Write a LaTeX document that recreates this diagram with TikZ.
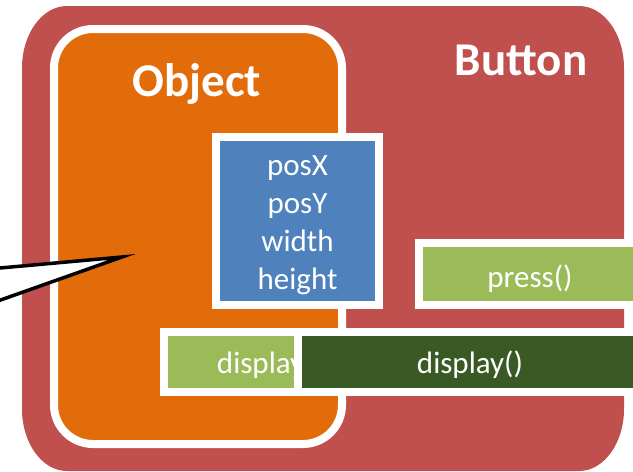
\documentclass[tikz,border=0pt]{standalone}
\usepackage{fontspec}
\setmainfont{Carlito}
\definecolor{redC}{HTML}{C0504D}
\definecolor{orangeC}{HTML}{E36C0A}
\definecolor{blueC}{HTML}{4F81BD}
\definecolor{lgreenC}{HTML}{9BBB59}
\definecolor{dgreenC}{HTML}{3A5A25}
\tikzset{
  wbox/.style={draw=white, line width=8pt, inner sep=0pt, outer sep=0pt, rectangle},
  title/.style={text=white, font=\fontsize{47}{52}\selectfont\bfseries, anchor=base, inner sep=0pt},
  lbl/.style={text=white, font=\fontsize{31}{38}\selectfont, anchor=base, inner sep=0pt},
}
\begin{document}
\begin{tikzpicture}[x=1pt,y=-1pt]
\useasboundingbox (0,0) rectangle (633,472);
\clip (0,0) rectangle (633,472);
% Button container
\fill[redC] (22,68) .. controls (22,33.8) and (42.15,6) .. (67,6) -- (579,6)
  .. controls (603.85,6) and (624,33.8) .. (624,68) -- (624,409)
  .. controls (624,443.2) and (603.85,471) .. (579,471) -- (67,471)
  .. controls (42.15,471) and (22,443.2) .. (22,409) -- cycle;
\node[title] (button) at (521,75) {Button};
% Object container
\node[wbox, fill=orangeC, rounded corners=39pt, minimum width=288pt, minimum height=415pt] (object) at (198,236.5) {};
\node[title] (objtitle) at (197,96) {Object};
% attributes
\node[wbox, fill=blueC, minimum width=163pt, minimum height=167.5pt] (attrs) at (297.5,220.75) {};
\node[lbl] (posx) at (297.5,175) {posX};
\node[lbl] (posy) at (297.5,213) {posY};
\node[lbl] (wd) at (297.5,251) {width};
\node[lbl] (ht) at (297.5,289) {height};
% press
\node[wbox, fill=lgreenC, minimum width=221.5pt, minimum height=61.5pt] (press) at (529.25,273.75) {};
\node[lbl] (presst) at (530,287) {press()};
% display (object)
\node[wbox, fill=lgreenC, minimum width=208pt, minimum height=60.5pt] (disp1) at (268,361.75) {};
\node[lbl] (disp1t) at (270,373) {display()};
% display (button)
\node[wbox, fill=dgreenC, minimum width=347pt, minimum height=60.5pt] (disp2) at (471.5,361.75) {};
\node[lbl] (disp2t) at (470,373) {display()};
% callout pointer
\coordinate (ctop) at (-20,269.8);
\coordinate (ctip) at (122,257);
\coordinate (cbot) at (-20,307.3);
\filldraw[fill=white, draw=black, line width=3.5pt, line join=miter, miter limit=12] (ctop) -- (ctip) -- (cbot) -- cycle;
\end{tikzpicture}
\end{document}
